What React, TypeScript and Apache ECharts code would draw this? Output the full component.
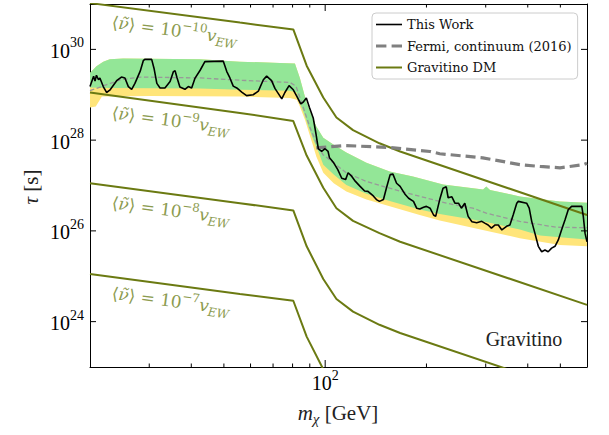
import React, { useEffect, useRef } from 'react';
import * as echarts from 'echarts';

// ---------- data (masses in GeV, lifetimes as log10(tau / s)) ----------
const xMinorTicks = [30, 40, 50, 60, 70, 80, 90, 200, 300, 400, 500];
const xMajorTicks = [100];
const yTickExponents = [24, 26, 28, 30];

const thisWorkMass = [20.0, 20.5, 20.7, 20.9, 21.2, 21.4, 21.9, 22.4, 22.9, 24.0,
  24.8, 25.4, 26.0, 26.6, 27.2, 28.2, 28.8, 29.1, 30.5, 31.0,
  31.6, 32.3, 33.4, 34.6, 35.4, 35.8, 36.3, 37.0, 38.3, 39.2,
  40.1, 41.0, 42.5, 43.9, 49.8, 51.0, 52.1, 53.3, 54.6, 56.5,
  58.4, 61.1, 63.3, 65.5, 67.0, 69.3, 70.9, 72.5, 74.3, 75.9,
  78.1, 80.4, 82.3, 84.6, 86.1, 87.9, 89.8, 92.2, 93.9, 95.4,
  97.6, 99.9, 102, 103, 106, 109, 112, 115, 117, 120,
  123, 127, 131, 134, 139, 142, 145, 149, 152, 156,
  159, 163, 167, 173, 177, 183, 187, 191, 196, 200,
  205, 210, 213, 219, 224, 229, 232, 238, 243, 249,
  254, 260, 266, 273, 282, 292, 298, 305, 312, 320,
  327, 335, 346, 354, 362, 371, 375, 397, 404, 411,
  420, 430, 440, 450, 460, 471, 482, 493, 504, 516,
  528, 540, 579, 585, 592, 600];
const thisWorkLogTau = [29.18, 29.41, 29.30, 29.43, 29.33, 29.37, 29.18, 29.05, 29.10, 29.31,
  29.39, 29.37, 29.18, 29.12, 29.25, 29.52, 29.75, 29.78, 29.78, 29.58,
  29.25, 29.15, 29.15, 29.29, 29.51, 29.53, 29.37, 29.17, 29.12, 29.18,
  29.15, 29.36, 29.54, 29.73, 29.74, 29.51, 29.37, 29.19, 29.15, 29.06,
  28.98, 29.00, 29.08, 29.33, 29.41, 29.31, 29.14, 29.03, 28.91, 29.05,
  29.20, 29.11, 28.97, 28.80, 28.84, 28.93, 28.72, 28.48, 28.14, 27.81,
  27.75, 27.81, 27.75, 27.61, 27.50, 27.35, 27.16, 27.13, 27.28, 27.20,
  27.09, 26.98, 26.88, 26.87, 26.77, 26.69, 26.65, 26.69, 26.94, 27.24,
  27.25, 27.05, 26.98, 26.80, 26.72, 26.65, 26.50, 26.48, 26.52, 26.54,
  26.50, 26.35, 26.32, 26.69, 26.94, 26.97, 26.73, 26.75, 26.61, 26.61,
  26.50, 26.61, 26.32, 26.20, 26.18, 26.21, 26.17, 26.13, 26.06, 26.13,
  26.13, 26.02, 26.10, 26.13, 26.35, 26.61, 26.65, 26.61, 26.50, 26.21,
  25.95, 25.66, 25.54, 25.58, 25.54, 25.62, 25.66, 25.80, 26.02, 26.24,
  26.47, 26.54, 26.54, 26.32, 25.95, 25.76];

const medianMass = [20, 24.6, 28.2, 42.5, 55.8, 78.6, 81.9, 85.9, 89.9, 94.1, 98.5, 115.6, 132.6, 155.5, 182.3, 229.2, 274.9, 301.2, 378.4, 486.4, 600];
const medianLogTau = [29.09, 29.33, 29.39, 29.37, 29.32, 29.27, 29.19, 28.74, 28.30, 27.94, 27.68, 27.28, 27.09, 26.94, 26.80, 26.61, 26.50, 26.39, 26.21, 26.08, 26.07];

const fermiMass = [94.1, 115, 154, 205, 219, 294, 379, 435, 499, 585, 600];
const fermiLogTau = [27.83, 27.88, 27.84, 27.75, 27.70, 27.61, 27.46, 27.42, 27.39, 27.46, 27.49];

const greenUpperMass = [20.0, 20.9, 21.9, 22.9, 25.1, 42.5, 55.8, 73.4, 81.3, 84.1, 88.1, 94.1, 98.7, 106, 115.6, 132.6, 155.5, 182.3, 224, 294.6, 301.2, 309, 379, 498.5, 600];
const greenUpperLogTau = [29.48, 29.63, 29.73, 29.78, 29.80, 29.78, 29.73, 29.70, 29.69, 29.37, 28.82, 28.30, 28.05, 27.90, 27.73, 27.50, 27.31, 27.20, 27.02, 26.91, 26.98, 26.90, 26.76, 26.65, 26.62];
const greenLowerMass = [20, 22.9, 42.5, 55.8, 78.6, 82.3, 83.2, 86.1, 89.1, 92.2, 95.4, 98.7, 106, 115.6, 132.6, 155.5, 191, 219, 294, 379, 435, 498.5, 600];
const greenLowerLogTau = [29.16, 29.15, 29.14, 29.11, 29.09, 29.05, 28.89, 28.63, 28.30, 28.01, 27.75, 27.46, 27.24, 27.01, 26.82, 26.66, 26.47, 26.37, 26.21, 26.03, 25.90, 25.86, 25.81];
const yellowLowerMass = [20, 20.8, 21.7, 30.2, 55.8, 78.6, 82.3, 84.1, 87.1, 89.9, 92.2, 94.1, 98.7, 106, 115.6, 132.6, 155.5, 191, 219, 294, 379, 498.5, 600];
const yellowLowerLogTau = [28.72, 28.74, 28.96, 28.97, 28.96, 28.93, 28.89, 28.74, 28.45, 28.12, 27.86, 27.64, 27.28, 27.05, 26.87, 26.69, 26.54, 26.35, 26.23, 26.02, 25.84, 25.69, 25.66];

const gravMass = [20, 55.8, 80.4, 88.1, 98.7, 108, 121, 145, 167, 600];
const grav1e10 = [31.02, 30.59, 30.44, 29.64, 28.94, 28.50, 28.22, 27.93, 27.75, 26.35];
const grav1e9 = [29.05, 28.60, 28.42, 27.66, 26.95, 26.50, 26.22, 25.95, 25.76, 24.37];
const grav1e8 = [27.05, 26.61, 26.45, 25.66, 24.94, 24.50, 24.22, 23.93, 23.75, 22.36];
const grav1e7 = [25.05, 24.61, 24.46, 23.67, 22.95, 22.50, 22.22, 21.93, 21.75, 20.36];
const gravLabelExponents = ['−10', '−9', '−8', '−7'];

// ---------- styling ----------
const SERIF = 'Liberation Serif';
const MATH = 'DejaVu Serif';
const LEGEND_FONT = 'DejaVu Serif';
const OLIVE = '#6b7a12';
const OLIVE_TEXT = '#8c9b4f';
const GREEN = '#93e697';
const YELLOW = '#ffe57a';

const toPairs = (ms: number[], logs: number[]) => ms.map((m, i) => [m, Math.pow(10, logs[i])]);

function polygonSeries(upper: number[][], lower: number[][], fill: string, z: number) {
  const pts = [...lower, ...upper.slice().reverse()];
  return {
    type: 'custom',
    silent: true,
    z,
    clip: true,
    data: [[20, 1e27]],
    renderItem: (_params: any, api: any) => ({
      type: 'polygon',
      shape: { points: pts.map((p) => api.coord(p)) },
      style: { fill, stroke: 'none' },
    }),
  };
}

const tickRich = {
  b: { fontSize: 20, fontFamily: SERIF, fill: '#000', color: '#000', lineHeight: 30 },
  s: { fontSize: 14, fontFamily: SERIF, fill: '#000', color: '#000', verticalAlign: 'top', lineHeight: 15 },
};

function buildOption() {
  const greenUpper = toPairs(greenUpperMass, greenUpperLogTau);
  const greenLower = toPairs(greenLowerMass, greenLowerLogTau);
  const yellowLower = toPairs(yellowLowerMass, yellowLowerLogTau);

  const gravSets = [grav1e10, grav1e9, grav1e8, grav1e7];
  const gravSeries = gravSets.map((arr) => ({
    type: 'line',
    name: 'Gravitino DM',
    data: toPairs(gravMass, arr),
    symbol: 'none',
    clip: true,
    color: OLIVE,
    lineStyle: { color: OLIVE, width: 2 },
    z: 3,
    silent: true,
  }));

  const xTicks = [...xMinorTicks.map((v) => [v, 1e27, 0]), ...xMajorTicks.map((v) => [v, 1e27, 1])];
  const yTicks = yTickExponents.map((e) => [20, Math.pow(10, e), e]);

  const labelAnchors = [[112, 22], [112, 112.5], [112, 202.5], [112, 293]];
  const richMath = {
    m: { fontSize: 17, fontFamily: MATH, fill: OLIVE_TEXT, lineHeight: 24 },
    mi: { fontSize: 17, fontFamily: MATH, fontStyle: 'italic', fill: OLIVE_TEXT, lineHeight: 24 },
    sup: { fontSize: 12, fontFamily: MATH, fill: OLIVE_TEXT, verticalAlign: 'top', lineHeight: 14 },
    sub: { fontSize: 12, fontFamily: MATH, fontStyle: 'italic', fill: OLIVE_TEXT, verticalAlign: 'bottom', lineHeight: 14 },
  };
  const nuLabels = gravLabelExponents.map((ex, i) => ({
    type: 'text',
    x: labelAnchors[i][0],
    y: labelAnchors[i][1],
    rotation: -7.6 * Math.PI / 180,
    silent: true,
    style: {
      text: `{m|⟨}{mi|ν̃}{m|⟩ = 10}{sup|${ex}}{mi|v}{sub|EW}`,
      rich: richMath,
      align: 'left',
      verticalAlign: 'middle',
    },
  }));

  const yAxisBase = {
    type: 'log',
    logBase: 10,
    min: 1e23,
    max: 1e31,
    splitLine: { show: false },
    axisLine: { show: true, lineStyle: { color: '#000', width: 1 } },
    axisTick: { show: false },
    axisLabel: { show: false },
  };

  return {
    animation: false,
    backgroundColor: '#fff',
    grid: { left: 90, right: 22, top: 4, bottom: 68, containLabel: false },
    xAxis: [
      {
        type: 'log', logBase: 10, min: 20, max: 600, position: 'bottom',
        splitLine: { show: false },
        axisLine: { show: true, lineStyle: { color: '#000', width: 1 } },
        axisTick: { show: false },
        axisLabel: {
          margin: 1,
          formatter: (v: number) => (Math.abs(Math.log10(v) - 2) < 1e-6 ? '{b|10}{s|2}' : ''),
          rich: tickRich,
        },
      },
      {
        type: 'log', logBase: 10, min: 20, max: 600, position: 'top',
        splitLine: { show: false },
        axisLine: { show: true, lineStyle: { color: '#000', width: 1 } },
        axisTick: { show: false },
        axisLabel: { show: false },
      },
    ],
    yAxis: [
      { ...yAxisBase, position: 'left' },
      { ...yAxisBase, position: 'right' },
    ],
    legend: {
      data: [
        { name: 'This Work', icon: 'path://M0,0H26V1.6H0Z' },
        { name: 'Fermi, continuum (2016)', icon: 'path://M0,0H10V3H0ZM15,0H25V3H15Z' },
        { name: 'Gravitino DM', icon: 'path://M0,0H26V2H0Z' },
      ],
      orient: 'vertical',
      left: 372,
      top: 13,
      itemWidth: 26,
      itemHeight: 14,
      itemGap: 8.5,
      padding: [5, 6, 5, 4],
      borderColor: '#cccccc',
      borderWidth: 1,
      borderRadius: 4,
      backgroundColor: 'rgba(255,255,255,0.85)',
      textStyle: { fontFamily: LEGEND_FONT, fontSize: 13, color: '#111' },
    },
    graphic: [
      ...nuLabels,
      {
        type: 'text', x: 338, y: 413, silent: true,
        style: {
          text: '{i|m}{sub|χ}{r| [GeV]}',
          align: 'center', verticalAlign: 'middle',
          rich: {
            i: { fontSize: 21, fontFamily: SERIF, fontStyle: 'italic', fill: '#222', lineHeight: 26 },
            sub: { fontSize: 15, fontFamily: SERIF, fontStyle: 'italic', fill: '#222', verticalAlign: 'bottom', lineHeight: 16 },
            r: { fontSize: 21, fontFamily: SERIF, fill: '#222', lineHeight: 26 },
          },
        },
      },
      {
        type: 'text', x: 31, y: 187, rotation: Math.PI / 2, silent: true,
        style: {
          text: '{i|τ}{r| [s]}', align: 'center', verticalAlign: 'middle',
          rich: {
            i: { fontSize: 21, fontFamily: SERIF, fontStyle: 'italic', fill: '#222' },
            r: { fontSize: 21, fontFamily: SERIF, fill: '#222' },
          },
        },
      },
      {
        type: 'text', x: 524, y: 339, silent: true,
        style: { text: 'Gravitino', fontSize: 20, fontFamily: SERIF, fill: '#222', align: 'center', verticalAlign: 'middle' },
      },
    ],
    series: [
      polygonSeries(greenUpper, yellowLower, YELLOW, 1),
      polygonSeries(greenUpper, greenLower, GREEN, 2),
      ...gravSeries,
      {
        type: 'line', name: 'median', data: toPairs(medianMass, medianLogTau), symbol: 'none', clip: true,
        color: '#999', lineStyle: { color: '#999', width: 1.3, type: [4.5, 2.5] }, z: 4, silent: true,
      },
      {
        type: 'line', name: 'Fermi, continuum (2016)', data: toPairs(fermiMass, fermiLogTau), symbol: 'none', clip: true,
        color: '#808080', lineStyle: { color: '#808080', width: 3.2, type: [10, 5] }, z: 5, silent: true,
      },
      {
        type: 'line', name: 'This Work', data: toPairs(thisWorkMass, thisWorkLogTau), symbol: 'none', clip: true,
        color: '#000', lineStyle: { color: '#000', width: 1.6 }, z: 6, silent: true,
      },
      {
        type: 'custom', silent: true, z: 10, data: xTicks,
        renderItem: (params: any, api: any) => {
          const p = api.coord([api.value(0), api.value(1)]);
          const cs = params.coordSys;
          const len = api.value(2) === 1 ? 7 : 3.5;
          const bottom = cs.y + cs.height;
          return {
            type: 'group',
            children: [
              { type: 'line', shape: { x1: p[0], y1: bottom, x2: p[0], y2: bottom - len }, style: { stroke: '#000', lineWidth: 1 } },
              { type: 'line', shape: { x1: p[0], y1: cs.y, x2: p[0], y2: cs.y + len }, style: { stroke: '#000', lineWidth: 1 } },
            ],
          };
        },
      },
      {
        type: 'custom', silent: true, z: 10, data: yTicks,
        renderItem: (params: any, api: any) => {
          const p = api.coord([api.value(0), api.value(1)]);
          const e = api.value(2);
          const cs = params.coordSys;
          const right = cs.x + cs.width;
          return {
            type: 'group',
            children: [
              { type: 'line', shape: { x1: cs.x, y1: p[1], x2: cs.x + 6, y2: p[1] }, style: { stroke: '#000', lineWidth: 1 } },
              { type: 'line', shape: { x1: right, y1: p[1], x2: right - 6, y2: p[1] }, style: { stroke: '#000', lineWidth: 1 } },
              {
                type: 'text', x: cs.x - 6, y: p[1] + 1.5,
                style: { text: `{b|10}{s|${e}}`, rich: tickRich, align: 'right', verticalAlign: 'middle' },
              },
            ],
          };
        },
      },
    ],
  };
}

export default function App() {
  const ref = useRef<HTMLDivElement>(null);
  useEffect(() => {
    if (!ref.current) return;
    const chart = echarts.init(ref.current, undefined, { renderer: 'svg' });
    chart.setOption(buildOption() as any);
    return () => chart.dispose();
  }, []);
  return (
    <div
      ref={ref}
      style={{ position: 'fixed', left: 0, top: 0, width: 609, height: 435, background: '#fff' }}
    />
  );
}
